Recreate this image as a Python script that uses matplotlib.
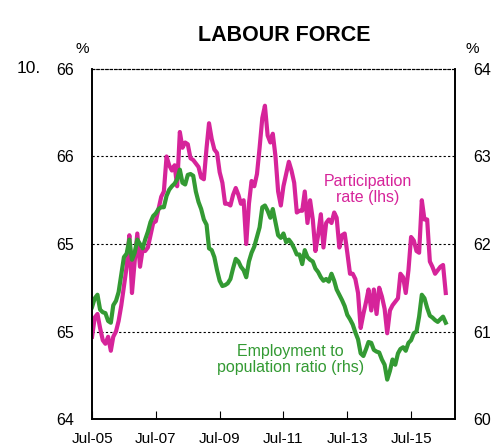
import numpy as np
import pandas as pd
import matplotlib
matplotlib.use("Agg")
import matplotlib.pyplot as plt

plt.rcParams['font.family'] = ['Liberation Sans', 'DejaVu Sans']

# monthly data, Jul-05 to Aug-16
part_rate = [64.47, 64.58, 64.60, 64.52, 64.45, 64.43, 64.47, 64.39, 64.47, 64.50,
             64.56, 64.65, 64.76, 64.87, 65.05, 64.72, 64.90, 65.06, 64.87, 64.97,
             64.96, 64.98, 65.05, 65.12, 65.13, 65.20, 65.27, 65.30, 65.50, 65.45,
             65.42, 65.45, 65.33, 65.64, 65.55, 65.58, 65.57, 65.49, 65.48, 65.46,
             65.44, 65.38, 65.37, 65.55, 65.69, 65.60, 65.54, 65.52, 65.41, 65.35,
             65.23, 65.23, 65.22, 65.28, 65.32, 65.28, 65.23, 65.25, 65.00, 65.23,
             65.36, 65.33, 65.40, 65.55, 65.72, 65.79, 65.62, 65.58, 65.63, 65.50,
             65.30, 65.22, 65.33, 65.40, 65.47, 65.42, 65.35, 65.18, 65.19, 65.19,
             65.30, 65.12, 65.25, 65.14, 64.96, 65.05, 65.17, 64.98, 65.12, 65.14,
             65.12, 65.18, 65.15, 64.98, 65.05, 65.06, 64.95, 64.83, 64.83, 64.80,
             64.72, 64.52, 64.60, 64.67, 64.74, 64.62, 64.74, 64.60, 64.75, 64.70,
             64.63, 64.49, 64.62, 64.65, 64.67, 64.69, 64.83, 64.81, 64.72, 64.85,
             65.04, 65.02, 64.96, 64.95, 65.25, 65.14, 65.14, 64.90, 64.87, 64.83,
             64.85, 64.87, 64.88, 64.72]

emp_ratio = [61.28, 61.38, 61.42, 61.25, 61.22, 61.21, 61.12, 61.10, 61.30, 61.35,
             61.45, 61.65, 61.85, 61.89, 62.05, 61.82, 61.90, 62.05, 62.00, 61.95,
             62.05, 62.14, 62.25, 62.32, 62.35, 62.40, 62.42, 62.42, 62.55, 62.62,
             62.66, 62.69, 62.74, 62.85, 62.70, 62.68, 62.79, 62.80, 62.78, 62.60,
             62.48, 62.40, 62.28, 62.22, 61.95, 61.93, 61.85, 61.70, 61.58, 61.52,
             61.53, 61.55, 61.60, 61.72, 61.83, 61.80, 61.74, 61.70, 61.62, 61.80,
             61.90, 61.97, 62.08, 62.19, 62.42, 62.44, 62.38, 62.30, 62.40, 62.25,
             62.10, 62.07, 62.12, 62.02, 62.05, 62.01, 61.95, 61.88, 61.88, 61.77,
             61.93, 61.85, 61.82, 61.80, 61.72, 61.68, 61.62, 61.58, 61.60, 61.57,
             61.66, 61.58, 61.48, 61.42, 61.36, 61.29, 61.19, 61.14, 61.08, 60.99,
             60.91, 60.75, 60.72, 60.80, 60.88, 60.87, 60.79, 60.77, 60.76, 60.68,
             60.62, 60.45, 60.55, 60.68, 60.62, 60.75, 60.80, 60.82, 60.78, 60.87,
             60.90, 60.98, 61.00, 61.17, 61.42, 61.38, 61.27, 61.18, 61.16, 61.13,
             61.11, 61.14, 61.17, 61.10]

dates = pd.date_range('2005-07-01', periods=len(part_rate), freq='MS')
xtick_dates = pd.to_datetime(['2005-07-01', '2007-07-01', '2009-07-01',
                              '2011-07-01', '2013-07-01', '2015-07-01'])
xtick_labels = ['Jul-05', 'Jul-07', 'Jul-09', 'Jul-11', 'Jul-13', 'Jul-15']
left_ticks = [64, 64.5, 65, 65.5, 66]
left_labels = ['64', '65', '65', '66', '66']
right_ticks = [60, 61, 62, 63, 64]

pink = '#d6249a'
green = '#339a33'

fig = plt.figure(figsize=(5.03, 4.44), dpi=100)
ax1 = fig.add_axes([0.183, 0.0563, 0.7216, 0.7883])
ax2 = ax1.twinx()

ax1.plot(dates, part_rate, color=pink, lw=3, solid_joinstyle='round')
ax2.plot(dates, emp_ratio, color=green, lw=3, solid_joinstyle='round')

ax1.set_xlim(pd.Timestamp('2005-07-01'), pd.Timestamp('2016-11-15'))
ax1.set_ylim(64, 66)
ax2.set_ylim(60, 64)

for y in [64.5, 65, 65.5]:
    ax1.axhline(y, color='black', lw=0.8, ls=(0, (2, 2)), zorder=0)

ax1.set_yticks(left_ticks)
ax1.set_yticklabels(left_labels)
ax2.set_yticks(right_ticks)
ax1.set_xticks(xtick_dates)
ax1.set_xticklabels(xtick_labels)

ax1.tick_params(axis='y', length=0, labelsize=11.5, pad=13)
ax2.tick_params(axis='y', length=0, labelsize=11.5, pad=13)
ax1.tick_params(axis='x', direction='in', length=6, width=0.8, labelsize=11, pad=9)

for ax in (ax1, ax2):
    ax.spines['top'].set_linestyle((0, (2, 2)))
    ax.spines['top'].set_linewidth(0.8)
    ax.spines['bottom'].set_linewidth(1.2)
    ax.spines['left'].set_linewidth(1.2)
    ax.spines['right'].set_linewidth(1.2)

fig.text(0.565, 0.921, 'LABOUR FORCE', ha='center', va='center',
         fontsize=15.5, fontweight='bold')
fig.text(0.034, 0.845, '10.', ha='left', va='center', fontsize=12.5)
fig.text(0.163, 0.89, '%', ha='center', va='center', fontsize=11)
fig.text(0.939, 0.89, '%', ha='center', va='center', fontsize=11)

fig.text(0.731, 0.573, 'Participation\nrate (lhs)', ha='center', va='center',
         fontsize=11.5, color=pink, linespacing=1.1)
fig.text(0.577, 0.191, 'Employment to\npopulation ratio (rhs)', ha='center',
         va='center', fontsize=11.5, color=green, linespacing=1.1)

fig.savefig('out.png', dpi=100)
